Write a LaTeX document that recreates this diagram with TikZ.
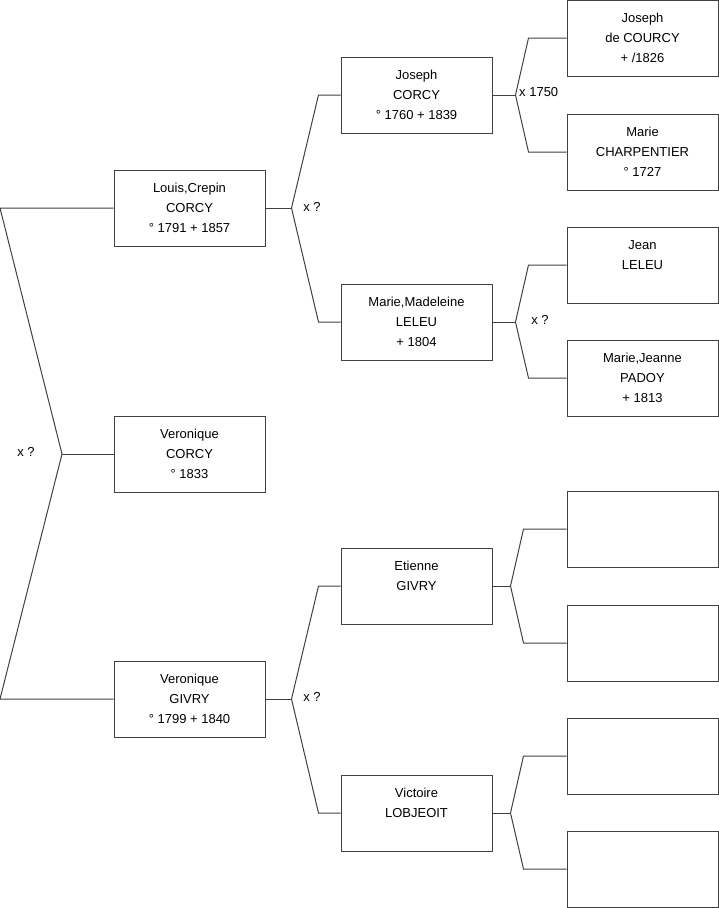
\documentclass[tikz,border=0pt]{standalone}
\usepackage{fontspec}
\setmainfont{Liberation Sans}
\usetikzlibrary{calc}

\begin{document}
\begin{tikzpicture}[x=1pt, y=-1pt,
  pbox/.style={draw=black!75, line width=1pt, minimum width=151pt, minimum height=76pt,
    inner sep=0pt, align=center, font=\fontsize{13pt}{20pt}\selectfont},
  link/.style={draw=black!75, line width=1pt},
  union/.style={font=\fontsize{13pt}{20pt}\selectfont, inner sep=0pt}]

\useasboundingbox (0,0) rectangle (719,908);

% Generation 1
\node[pbox] (louis) at (189.5,208) {Louis,Crepin\\CORCY\\° 1791 + 1857};
\node[pbox] (veroc) at (189.5,454) {Veronique\\CORCY\\° 1833};
\node[pbox] (verog) at (189.5,699) {Veronique\\GIVRY\\° 1799 + 1840};

% Generation 2
\node[pbox] (joseph)   at (416.5,95)  {Joseph\\CORCY\\° 1760 + 1839};
\node[pbox] (mmad)     at (416.5,322) {Marie,Madeleine\\LELEU\\+ 1804};
\node[pbox] (etienne)  at (416.5,586) {Etienne\\GIVRY\\\mbox{}};
\node[pbox] (victoire) at (416.5,813) {Victoire\\LOBJEOIT\\\mbox{}};

% Generation 3
\node[pbox] (jcourcy) at (642.5,38)  {Joseph\\de COURCY\\+ /1826};
\node[pbox] (mcharp)  at (642.5,152) {Marie\\CHARPENTIER\\° 1727};
\node[pbox] (jean)    at (642.5,265) {Jean\\LELEU\\\mbox{}};
\node[pbox] (mjeanne) at (642.5,378) {Marie,Jeanne\\PADOY\\+ 1813};
\node[pbox] (empa) at (642.5,529) {};
\node[pbox] (empb) at (642.5,643) {};
\node[pbox] (empc) at (642.5,756) {};
\node[pbox] (empd) at (642.5,869) {};

% Root fork
\coordinate (rtop) at (0,208);
\coordinate (rmid) at (62,454);
\coordinate (rbot) at (0,699);
\draw[link] (louis.west) -- (rtop) -- (rmid) -- (rbot) -- (verog.west);
\draw[link] (rmid) -- (veroc.west);
\node[union] (u0) at (26,452) {x ?};

% Parents of Louis,Crepin
\coordinate (ma) at ($(louis.east)+(26,0)$);
\draw[link] (joseph.west) -- ++(-22,0) -- (ma) -- ($(mmad.west)+(-22,0)$) -- (mmad.west);
\draw[link] (louis.east) -- (ma);
\node[union] (u1) at (312,207) {x ?};

% Parents of Veronique GIVRY
\coordinate (mb) at ($(verog.east)+(26,0)$);
\draw[link] (etienne.west) -- ++(-22,0) -- (mb) -- ($(victoire.west)+(-22,0)$) -- (victoire.west);
\draw[link] (verog.east) -- (mb);
\node[union] (u2) at (312,697) {x ?};

% Parents of Joseph
\coordinate (mc) at ($(joseph.east)+(23,0)$);
\draw[link] (jcourcy.west) -- ++(-38,0) -- (mc) -- ($(mcharp.west)+(-38,0)$) -- (mcharp.west);
\draw[link] (joseph.east) -- (mc);
\node[union, anchor=west] (u3) at (519,92) {x 1750};

% Parents of Marie,Madeleine
\coordinate (md) at ($(mmad.east)+(23,0)$);
\draw[link] (jean.west) -- ++(-38,0) -- (md) -- ($(mjeanne.west)+(-38,0)$) -- (mjeanne.west);
\draw[link] (mmad.east) -- (md);
\node[union] (u4) at (540,320) {x ?};

% Parents of Etienne
\coordinate (me) at ($(etienne.east)+(18,0)$);
\draw[link] (empa.west) -- ++(-43,0) -- (me) -- ($(empb.west)+(-43,0)$) -- (empb.west);
\draw[link] (etienne.east) -- (me);

% Parents of Victoire
\coordinate (mf) at ($(victoire.east)+(18,0)$);
\draw[link] (empc.west) -- ++(-43,0) -- (mf) -- ($(empd.west)+(-43,0)$) -- (empd.west);
\draw[link] (victoire.east) -- (mf);

\end{tikzpicture}
\end{document}
